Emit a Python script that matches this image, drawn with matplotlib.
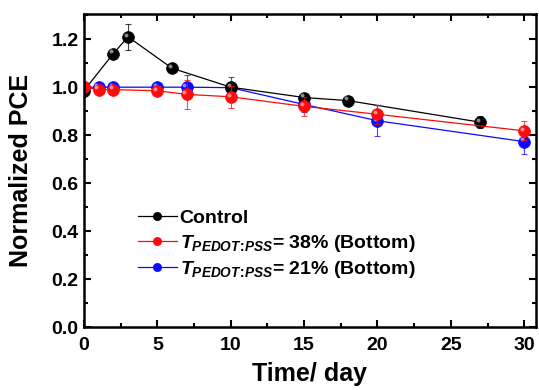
import matplotlib
matplotlib.use("Agg")
import matplotlib.pyplot as plt
from matplotlib.ticker import MultipleLocator
from matplotlib.transforms import offset_copy

plt.rcParams['font.family'] = ['Liberation Sans', 'DejaVu Sans']
plt.rcParams['font.weight'] = 'bold'
plt.rcParams['mathtext.fontset'] = 'custom'
plt.rcParams['mathtext.rm'] = 'Liberation Sans:bold'
plt.rcParams['mathtext.it'] = 'Liberation Sans:bold:italic'
plt.rcParams['mathtext.bf'] = 'Liberation Sans:bold'

# data
ctrl_day = [0, 2, 3, 6, 10, 15, 18, 27]
ctrl_pce = [0.986, 1.14, 1.21, 1.079, 1.0, 0.957, 0.944, 0.854]
ctrl_err = [0.0, 0.0, 0.055, 0.0, 0.02, 0.012, 0.0, 0.025]

t38_day = [0, 1, 2, 5, 7, 10, 15, 20, 30]
t38_pce = [1.0, 0.99, 0.99, 0.985, 0.97, 0.96, 0.92, 0.887, 0.818]
t38_err = [0.0, 0.0, 0.0, 0.0, 0.06, 0.045, 0.04, 0.04, 0.04]

t21_day = [0, 1, 2, 5, 7, 10, 15, 20, 30]
t21_pce = [1.0, 1.0, 1.0, 1.0, 1.0, 0.998, 0.928, 0.86, 0.773]
t21_err = [0.0, 0.0, 0.0, 0.0, 0.05, 0.045, 0.03, 0.065, 0.05]

labels = ['Control',
          r'$T_{PEDOT\!:\!PSS}$= 38% (Bottom)',
          r'$T_{PEDOT\!:\!PSS}$= 21% (Bottom)']

fig = plt.figure(figsize=(5.39, 3.9), dpi=100)
ax = fig.add_axes([0.1558, 0.1615, 0.8386, 0.8025])
shine = offset_copy(ax.transData, fig=fig, x=-1.6, y=1.6, units='points')

# drawing order: blue, black, red (red ends up on top)
series = [(t21_day, t21_pce, t21_err, '#0a0aff', labels[2]),
          (ctrl_day, ctrl_pce, ctrl_err, '#000000', labels[0]),
          (t38_day, t38_pce, t38_err, '#ff0a0a', labels[1])]
handles = {}
for x, y, e, c, lab in series:
    ax.errorbar(x, y, yerr=e, color=c, lw=0.8, elinewidth=0.8, capsize=2.5,
                capthick=0.8, fmt='none', alpha=0.75)
    h, = ax.plot(x, y, '-', color=c, lw=0.9, marker='o', ms=8.5,
                 mfc=c, mec=c, mew=0.5, label=lab)
    ax.plot(x, y, linestyle='none', marker='o', ms=2.8, mfc='white',
            mec='none', alpha=0.55, transform=shine)
    handles[lab] = h

ax.set_xlim(0, 30.8)
ax.set_ylim(0, 1.305)
ax.xaxis.set_major_locator(MultipleLocator(5))
ax.xaxis.set_minor_locator(MultipleLocator(2.5))
ax.yaxis.set_major_locator(MultipleLocator(0.2))
ax.yaxis.set_minor_locator(MultipleLocator(0.1))
ax.tick_params(which='both', direction='in', top=True, right=True, width=1.5)
ax.tick_params(which='major', length=5, labelsize=14)
ax.tick_params(axis='x', which='major', pad=7)
ax.tick_params(axis='y', which='major', pad=4)
ax.tick_params(which='minor', length=3)
for s in ax.spines.values():
    s.set_linewidth(1.8)

ax.set_xlabel('Time/ day', fontsize=18, fontweight='bold', labelpad=6)
ax.set_ylabel('Normalized PCE', fontsize=18, fontweight='bold', labelpad=13)

ax.legend([handles[l] for l in labels], labels, loc='upper left',
          bbox_to_anchor=(0.119, 0.375), frameon=False, fontsize=14,
          handlelength=2.0, handletextpad=0.15, labelspacing=0.27,
          borderpad=0, borderaxespad=0, markerscale=0.7)

fig.savefig('out.png', dpi=100)
